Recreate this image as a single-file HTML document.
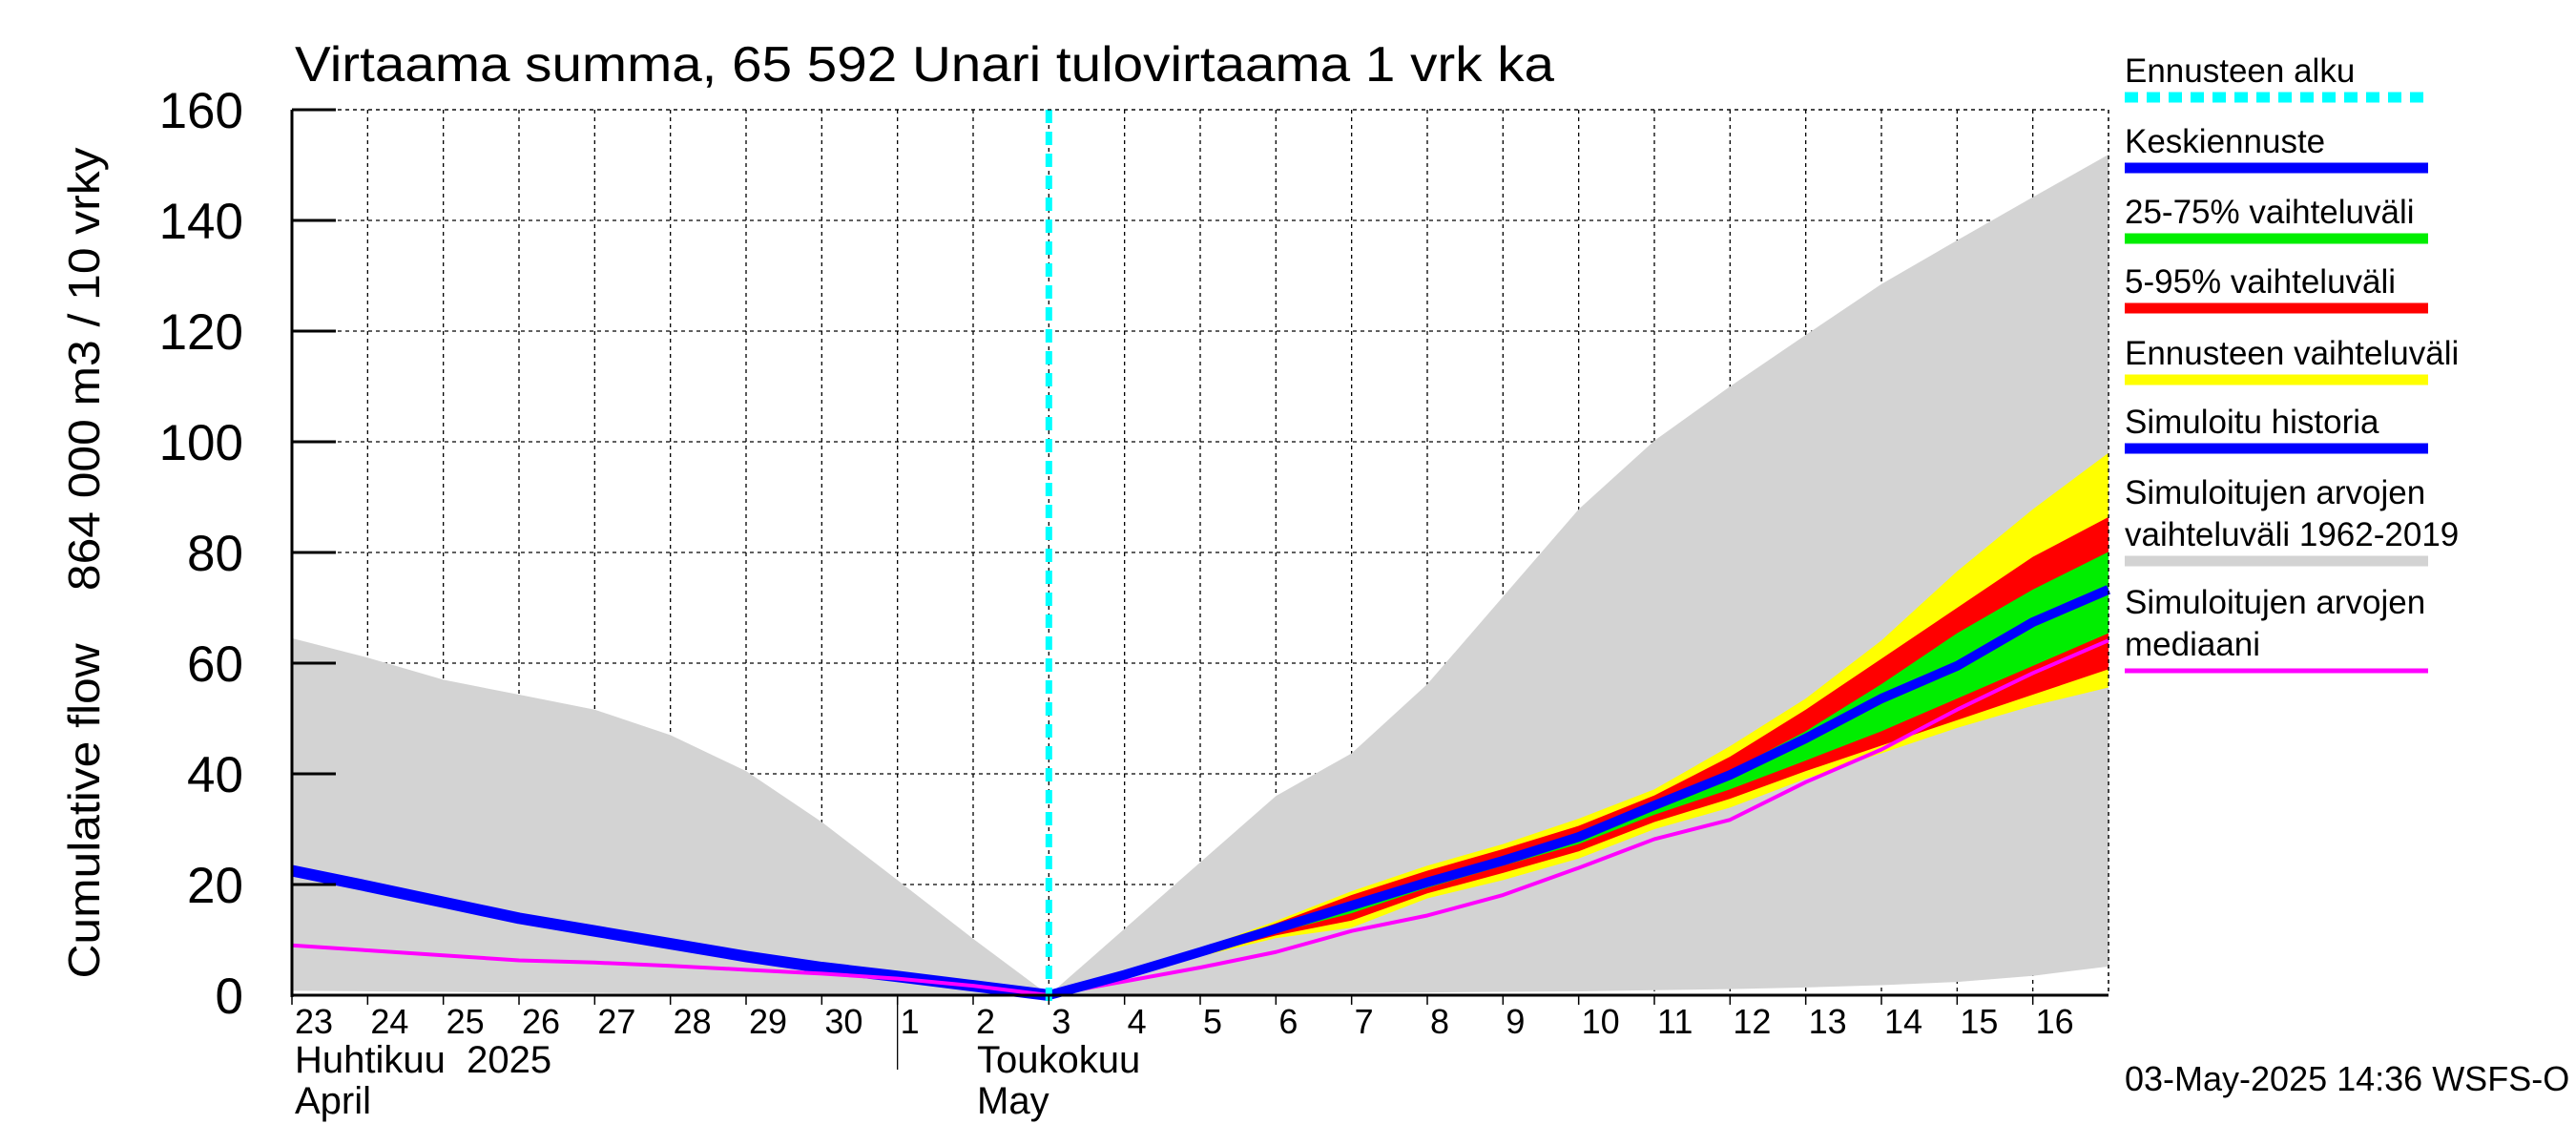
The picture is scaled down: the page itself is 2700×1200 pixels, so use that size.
<!DOCTYPE html>
<html><head><meta charset="utf-8"><style>
html,body{margin:0;padding:0;background:#fff;}
svg{display:block;font-family:"Liberation Sans",sans-serif;}
text{white-space:pre;}
</style></head><body>
<svg id="chart" width="2700" height="1200" viewBox="0 0 2700 1200" xmlns="http://www.w3.org/2000/svg">
<text x="309" y="85" font-size="52" textLength="1320" lengthAdjust="spacingAndGlyphs">Virtaama summa, 65 592 Unari tulovirtaama 1 vrk ka</text>
<text transform="translate(104,590) rotate(-90)" text-anchor="middle" font-size="46" textLength="871" lengthAdjust="spacingAndGlyphs">Cumulative flow    864 000 m3 / 10 vrky</text>
<g id="grid"></g>
<g id="bands"></g>
<g id="lines"></g>
<g id="axes"></g>
<g id="legend"></g>
<text x="309" y="1124" font-size="40">Huhtikuu  2025</text>
<text x="309" y="1167" font-size="40">April</text>
<text x="1024" y="1124" font-size="40">Toukokuu</text>
<text x="1024" y="1167" font-size="40">May</text>
<text x="2227" y="1143" font-size="36">03-May-2025 14:36 WSFS-O</text>
</svg>
<script>
const dayLabels=["23","24","25","26","27","28","29","30","1","2","3","4","5","6","7","8","9","10","11","12","13","14","15","16"];
const yTicks=[0,20,40,60,80,100,120,140,160];
const histUpper=[64.5,61,57,54.3,51.6,47,40.5,31.3,20.8,10.2,0,12,24,36,43.7,56.2,72,87.8,100.2,110,119.3,128.5,136.4,144.2,151.9];
const histLower=[0.8,0.7,0.6,0.5,0.4,0.3,0.2,0.1,0.1,0.05,0,0.1,0.2,0.3,0.4,0.5,0.6,0.7,0.9,1.1,1.4,1.8,2.4,3.5,5.2];
const simHistory=[22.5,19.7,16.8,13.9,11.6,9.3,7.0,5.0,3.4,1.7,0];
const median=[9,8.1,7.2,6.3,5.9,5.3,4.6,3.9,3.0,1.7,0,2.5,5.0,7.8,11.6,14.4,18.1,23,28.2,31.7,38.5,44.4,51.6,58.2,64.1];
const fcMean=[0,3.7,7.8,12.0,16.2,20.4,24.3,28.6,34.3,39.8,46.4,53.6,59.5,67.4,73.3];
const yelUp=[0,3.9,8.4,13.4,18.8,23.4,27.3,31.9,37.2,45,53.6,64.1,76.6,87.8,98];
const redUp=[0,3.8,8.2,13.0,18.1,22.5,26.4,30.6,36.1,43.1,51.6,60.8,70,79.2,86.4];
const grnUp=[0,3.75,8.0,12.4,16.8,21.1,25,29,34.8,40.5,47.7,56.2,65.4,73.3,80.1];
const grnLo=[0,3.6,7.5,11.3,14.8,19.4,23.4,27.3,32.6,37.2,42.4,47.7,53.6,59.5,65.4];
const redLo=[0,3.5,7.3,10.8,13.5,18.4,22.1,26,31.3,35.5,40.5,45.1,49.7,54.3,58.9];
const yelLo=[0,3.4,7.0,10.3,12.2,17.5,20.8,24.7,30,33.9,39.1,43.7,48.3,52.3,55.6];
const fcStart=10;
const NS="http://www.w3.org/2000/svg";
const X0=306,X1=2210,Y0=1043,Y1=115,NDAYS=24,YMAX=160;
function xs(k){return X0+k*(X1-X0)/NDAYS;}
function ys(v){return Y0-v*(Y0-Y1)/YMAX;}
function mk(tag,attrs,parent){const e=document.createElementNS(NS,tag);for(const k in attrs)e.setAttribute(k,attrs[k]);parent.appendChild(e);return e;}
const grid=document.getElementById('grid'),bands=document.getElementById('bands'),lines=document.getElementById('lines'),axes=document.getElementById('axes'),legend=document.getElementById('legend');
for(let k=1;k<=NDAYS;k++){const l=mk('line',{x1:xs(k),x2:xs(k),y1:Y1,y2:Y0,stroke:'#000','stroke-width':1.3,'stroke-dasharray':'4 4'},grid);

}
yTicks.forEach(v=>{if(v===0)return;const l=mk('line',{x1:X0,x2:X1,y1:ys(v),y2:ys(v),stroke:'#000','stroke-width':1.3,'stroke-dasharray':'4 4'},grid);

});
function band(up,lo,off,color,name){let d='';up.forEach((v,i)=>{d+=(i?'L':'M')+xs(i+off)+','+ys(v);});for(let i=lo.length-1;i>=0;i--)d+='L'+xs(i+off)+','+ys(lo[i]);d+='Z';
const p=mk('path',{d:d,fill:color,stroke:'none'},bands);

}
band(histUpper,histLower,0,'#d3d3d3','historical-range-band');
band(yelUp,yelLo,fcStart,'#ffff00','forecast-range-band');
band(redUp,redLo,fcStart,'#ff0000','band-5-95');
band(grnUp,grnLo,fcStart,'#00ee00','band-25-75');
function line(vals,off,color,w,name){const pts=vals.map((v,i)=>xs(i+off)+','+ys(v)).join(' ');
const p=mk('polyline',{points:pts,fill:'none',stroke:color,'stroke-width':w,'stroke-linejoin':'round'},lines);

}
line(simHistory,0,'#0000ff',12,'simulated-history-line');
line(median,0,'#ff00ff',4,'median-line');
line(fcMean,fcStart,'#0000ff',10,'mean-forecast-line');
const cy=mk('line',{x1:xs(fcStart),x2:xs(fcStart),y1:Y1,y2:Y0+6,stroke:'#00ffff','stroke-width':7,'stroke-dasharray':'14 9'},lines);


mk('line',{x1:X0,x2:X0,y1:Y1,y2:Y0+2,stroke:'#000','stroke-width':3},axes);
mk('line',{x1:X0,x2:X1,y1:Y0,y2:Y0,stroke:'#000','stroke-width':3},axes);
mk('line',{x1:X0,x2:X1,y1:Y1,y2:Y1,stroke:'#000','stroke-width':1.3,'stroke-dasharray':'4 4'},axes);
mk('line',{x1:X1,x2:X1,y1:Y1,y2:Y0,stroke:'#000','stroke-width':1.3,'stroke-dasharray':'4 4'},axes);
mk('line',{x1:xs(8),x2:xs(8),y1:Y0,y2:1121,stroke:'#000','stroke-width':1.3},axes);
yTicks.forEach(v=>{mk('line',{x1:X0,x2:X0+46,y1:ys(v),y2:ys(v),stroke:'#000','stroke-width':3},axes);
const t=mk('text',{x:255,y:ys(v)+19,'text-anchor':'end','font-size':53},axes);t.textContent=v;

});
dayLabels.forEach((s,k)=>{mk('line',{x1:xs(k),x2:xs(k),y1:Y0,y2:Y0+10,stroke:'#000','stroke-width':1.5},axes);
const t=mk('text',{x:xs(k)+3,y:1083,'font-size':36},axes);t.textContent=s;

});
const legItems=[["Ennusteen alku",null,'#00ffff',102,true],["Keskiennuste",null,'#0000ff',176],["25-75% vaihteluväli",null,'#00ee00',250],["5-95% vaihteluväli",null,'#ff0000',323],["Ennusteen vaihteluväli",null,'#ffff00',398],["Simuloitu historia",null,'#0000ff',470],["Simuloitujen arvojen","vaihteluväli 1962-2019",'#d3d3d3',588],["Simuloitujen arvojen","mediaani",'#ff00ff',703]];
legItems.forEach(it=>{const g=mk('g',{},legend);


const lh=it[1]?[it[3]-60,it[3]-16]:[it[3]-16];
const t1=mk('text',{x:2227,y:lh[0],'font-size':35},g);t1.textContent=it[0];
if(it[1]){const t2=mk('text',{x:2227,y:lh[1],'font-size':35},g);t2.textContent=it[1];}
const a={x1:2227,x2:2545,y1:it[3],y2:it[3],stroke:it[2],'stroke-width':it[2]==='#ff00ff'?5:11};
const l=mk('line',a,g);if(it[4])l.setAttribute('stroke-dasharray','14 9');});
</script>
</body></html>
